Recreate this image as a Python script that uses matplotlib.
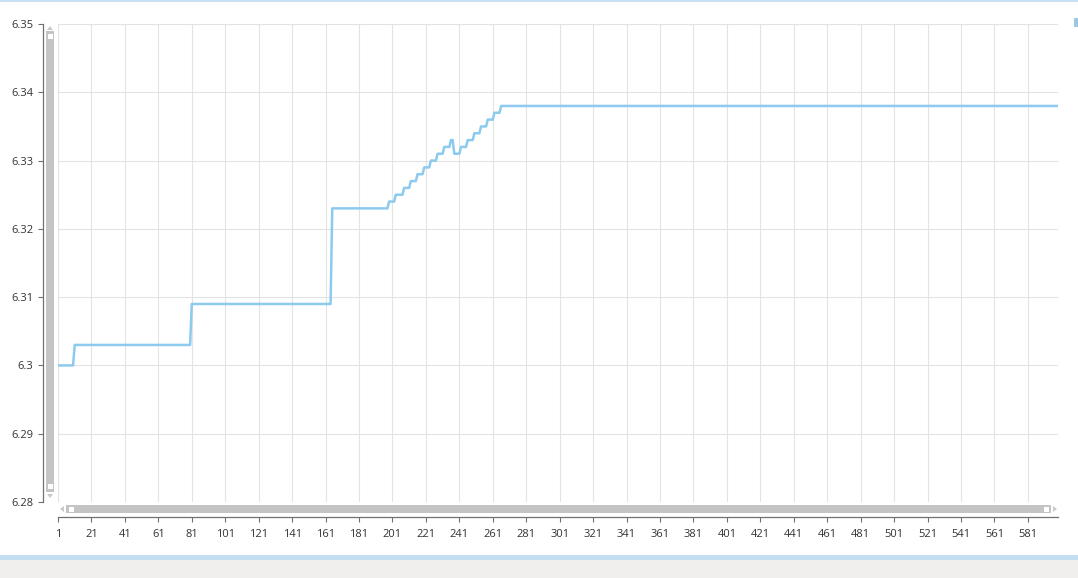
import matplotlib
matplotlib.use("Agg")
import matplotlib.pyplot as plt
from matplotlib.patches import Rectangle, Polygon
import numpy as np

# ---- data (change points of the stepped series: first sample of each new value) ----
change_x = [1, 11, 81, 165, 199, 203, 208, 212, 216, 220, 224, 228, 232, 236, 238,
            242, 246, 250, 254, 258, 262, 266, 599]
change_y = [6.300, 6.303, 6.309, 6.323, 6.324, 6.325, 6.326, 6.327, 6.328, 6.329,
            6.330, 6.331, 6.332, 6.333, 6.331, 6.332, 6.333, 6.334, 6.335, 6.336,
            6.337, 6.338, 6.338]
x_ticks = list(range(1, 582, 20))
y_ticks = [6.28, 6.29, 6.30, 6.31, 6.32, 6.33, 6.34, 6.35]
y_tick_labels = ["6.28", "6.29", "6.3", "6.31", "6.32", "6.33", "6.34", "6.35"]

W, H = 1078, 578
fig = plt.figure(figsize=(W / 100, H / 100), dpi=100)
plt.rcParams['font.family'] = ['Open Sans', 'DejaVu Sans']

def fx(px):
    return px / W

def fy(py):
    return 1 - py / H

# series points: value holds until one sample before each change
line_x = [change_x[0]]
line_y = [change_y[0]]
for i in range(1, len(change_x)):
    if change_y[i] != change_y[i - 1]:
        line_x.append(change_x[i] - 1)
        line_y.append(change_y[i - 1])
    line_x.append(change_x[i])
    line_y.append(change_y[i])

# plot area: x 58..1058, y 24..502
ax = fig.add_axes([fx(58), fy(502), (1058 - 58) / W, (502 - 24) / H])
ax.plot(line_x, line_y, color='#8ccaee', lw=1.8, zorder=3,
        solid_joinstyle='round', solid_capstyle='round')
ax.set_xlim(1, 599)
ax.set_ylim(6.28, 6.35)
ax.set_xticks(x_ticks)
ax.set_xticklabels([str(v) for v in x_ticks])
ax.set_yticks(y_ticks)
ax.set_yticklabels(y_tick_labels)
ax.grid(True, color='#e3e3e3', lw=0.8)
ax.set_axisbelow(True)
for s in ['top', 'right']:
    ax.spines[s].set_visible(False)
ax.spines['left'].set_position(('outward', 10.8))
ax.spines['bottom'].set_position(('outward', 10.6))
for s in ['left', 'bottom']:
    ax.spines[s].set_color('#707070')
    ax.spines[s].set_linewidth(0.9)
ax.tick_params(axis='both', colors='#707070', labelcolor='#333333', labelsize=8,
               length=3.6, width=0.8)
ax.tick_params(axis='y', pad=3.5)
ax.tick_params(axis='x', pad=5)

# ---- decorations (window chrome / scrollbars) ----
def rect(x0, y0, x1, y1, color, **kw):
    fig.add_artist(Rectangle((fx(x0), fy(y1)), fx(x1) - fx(x0), fy(y0) - fy(y1),
                             transform=fig.transFigure, color=color, lw=0, **kw))

def tri(pts, color):
    fig.add_artist(Polygon([(fx(a), fy(b)) for a, b in pts], closed=True,
                           transform=fig.transFigure, color=color, lw=0))

rect(0, 0, W, 1.5, '#c6e2f4')
rect(0, 555, W, 560, '#c3def1')
rect(0, 560, W, H, '#f1efed')
rect(1074, 18, 1078, 27, '#9cc8e8')

# vertical scrollbar
rect(46, 31, 54, 492, '#c4c4c4')
rect(47.5, 34, 52.5, 39, '#ffffff')
rect(47.5, 484, 52.5, 489, '#ffffff')
tri([(47, 30), (53, 30), (50, 26)], '#c8c8c8')
tri([(47, 494), (53, 494), (50, 498)], '#c8c8c8')

# horizontal scrollbar
rect(66, 505, 1051, 513, '#c4c4c4')
rect(68.5, 506.5, 73.5, 511.5, '#ffffff')
rect(1043.5, 506.5, 1048.5, 511.5, '#ffffff')
tri([(64, 506), (64, 512), (60, 509)], '#c8c8c8')
tri([(1053, 506), (1053, 512), (1057, 509)], '#c8c8c8')

fig.savefig('out.png', dpi=100)
